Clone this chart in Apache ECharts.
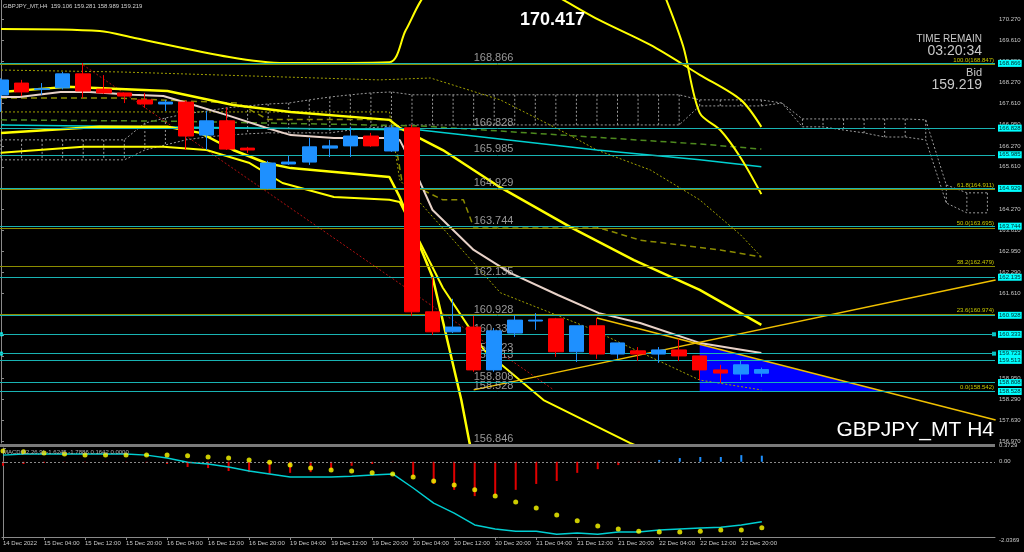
<!DOCTYPE html>
<html><head><meta charset="utf-8">
<script src="https://cdn.jsdelivr.net/npm/echarts@6/dist/echarts.min.js"></script>
<style>html,body{margin:0;padding:0;background:#000;overflow:hidden}#c{width:1024px;height:552px}</style>
</head><body><div id="c"></div>
<script>
// ---------- DATA ----------
const times = ['14 Dec 20:00','15 Dec 00:00','15 Dec 04:00','15 Dec 08:00','15 Dec 12:00','15 Dec 16:00','15 Dec 20:00',
 '16 Dec 00:00','16 Dec 04:00','16 Dec 08:00','16 Dec 12:00','16 Dec 16:00','16 Dec 20:00',
 '19 Dec 00:00','19 Dec 04:00','19 Dec 08:00','19 Dec 12:00','19 Dec 16:00','19 Dec 20:00',
 '20 Dec 00:00','20 Dec 04:00','20 Dec 08:00','20 Dec 12:00','20 Dec 16:00','20 Dec 20:00',
 '21 Dec 00:00','21 Dec 04:00','21 Dec 08:00','21 Dec 12:00','21 Dec 16:00','21 Dec 20:00',
 '22 Dec 00:00','22 Dec 04:00','22 Dec 08:00','22 Dec 12:00','22 Dec 16:00','22 Dec 20:00','23 Dec 00:00'];
const xLabelIdx = [0,2,4,6,8,10,12,14,16,18,20,22,24,26,28,30,32,34,36];
const xLabels = ['14 Dec 2022','15 Dec 04:00','15 Dec 12:00','15 Dec 20:00','16 Dec 04:00','16 Dec 12:00','16 Dec 20:00',
 '19 Dec 04:00','19 Dec 12:00','19 Dec 20:00','20 Dec 04:00','20 Dec 12:00','20 Dec 20:00','21 Dec 04:00',
 '21 Dec 12:00','21 Dec 20:00','22 Dec 04:00','22 Dec 12:00','22 Dec 20:00'];

const open  = [167.875,168.25,168.05,168.10,168.54,168.06,167.94,167.72,167.59,167.65,166.61,167.06,166.20,164.94,165.70,165.76,166.20,166.27,166.58,166.11,166.84,161.04,160.41,160.56,159.21,160.37,160.75,160.82,159.78,160.60,159.71,159.81,159.71,159.84,159.65,159.21,159.08,159.106];
const close = [168.348,167.97,168.07,168.54,168.00,167.94,167.84,167.59,167.65,166.58,167.06,166.17,166.14,165.73,165.76,166.24,166.27,166.58,166.27,166.84,161.04,160.41,160.56,159.21,160.44,160.78,160.78,159.78,160.60,159.71,160.06,159.71,159.84,159.65,159.21,159.11,159.37,159.219];
const low   = [167.34,167.84,167.88,168.05,167.78,167.91,167.62,167.47,167.37,166.14,166.14,166.14,166.05,164.90,165.67,165.67,165.92,165.92,166.24,166.08,160.91,160.31,160.37,159.15,159.15,160.25,160.47,159.62,159.46,159.56,159.56,159.49,159.43,159.49,158.89,158.80,158.89,158.989];
const high  = [168.40,168.35,168.25,168.60,168.88,168.50,167.94,167.94,167.72,167.70,167.37,167.47,166.24,165.80,165.95,166.52,166.46,166.87,166.68,166.93,166.93,162.14,161.45,160.91,160.53,160.94,161.00,160.85,160.60,160.85,160.06,159.93,159.93,160.19,159.65,159.37,159.49,159.281];

// MACD panel
const macdMain   = [0.18,0.21,0.21,0.21,0.21,0.21,0.21,0.18,0.10,-0.01,-0.06,-0.14,-0.25,-0.33,-0.41,-0.41,-0.41,-0.39,-0.36,-0.33,-0.71,-1.12,-1.39,-1.71,-1.82,-1.88,-1.88,-1.96,-1.93,-1.96,-1.90,-1.90,-1.85,-1.82,-1.79,-1.77,-1.71,-1.6245];
const macdSignal = [0.29,0.27,0.24,0.21,0.18,0.18,0.18,0.18,0.18,0.16,0.13,0.10,0.05,-0.01,-0.09,-0.17,-0.22,-0.25,-0.30,-0.33,-0.41,-0.52,-0.63,-0.76,-0.93,-1.09,-1.25,-1.44,-1.60,-1.74,-1.82,-1.88,-1.90,-1.90,-1.88,-1.85,-1.85,-1.7886];
const macdHist   = [-0.11,-0.06,-0.03,-0.01,-0.01,-0.005,-0.01,-0.03,-0.06,-0.14,-0.17,-0.25,-0.28,-0.33,-0.30,-0.28,-0.22,-0.11,-0.06,-0.01,-0.41,-0.60,-0.76,-0.93,-0.90,-0.76,-0.60,-0.52,-0.30,-0.20,-0.09,-0.02,0.05,0.10,0.13,0.13,0.18,0.1642];

// price axis ticks
const yTicks = [170.27,169.61,168.95,168.27,167.61,166.95,166.27,165.61,164.95,164.27,163.61,162.95,162.29,161.61,160.95,160.29,159.63,158.95,158.29,157.63,156.97];
const macdTicks = [0.3729,0,-2.0369];

// horizontal levels (cyan)
const levels = [168.866,166.828,165.985,164.929,163.744,162.135,160.928,160.333,159.723,159.513,158.808,158.528,156.846];
const markedLevels = [160.333,159.723];
// fibonacci
const fibPct = ['100.0','61.8','50.0','38.2','23.6','0.0'];
const fibVal = [168.847,164.911,163.695,162.479,160.974,158.542];
const bid = 159.219;

// overlay lines as [barIndex, price]
const envTop = [[0,169.955],[4.8,169.89],[6.5,169.67],[11.1,169.07],[13.8,168.88],[18.9,168.91],[19.7,169.92],[20.9,171.2],[24,172.0],[27,171.0],[29.1,170.24],[31.6,169.45],[34,168.51],[36,167.72],[37,166.87]];
const envTop2 = [[32.3,171.0],[33.2,169.4],[34,167.31],[35,166.77],[36,165.89],[37,164.75]];
const bbUpper = [[0,167.97],[3.2,168.13],[8.1,168.00],[11.3,167.56],[14.1,167.34],[18.9,167.09],[19.4,166.84],[21.5,166.14],[24.3,164.96],[27.8,163.68],[30.8,162.67],[34,161.73],[37,160.63]];
const bbLower = [[0,166.68],[4.8,166.87],[8.1,166.87],[9.7,166.68],[11.3,166.14],[12.9,165.73],[14.1,165.57],[18.9,165.29],[19.3,164.79],[19.4,164.66],[21,162.14],[22.4,158.26],[22.8,156.91],[23.2,156.0]];
const envLow = [[0,166.05],[4,166.24],[7.9,166.24],[10,166.14],[12.1,165.73],[13.7,165.10],[16.2,164.66],[18.9,164.57],[19.4,164.5],[21.5,161.8],[23.5,159.84],[26.4,158.26],[30.6,156.91],[31,156.8]];
const maLine = [[0,167.81],[0.9,167.81],[2.9,167.97],[4.3,167.97],[6.4,167.88],[7.9,167.84],[9.05,167.62],[11,167.24],[12.9,166.84],[14.1,166.61],[16.2,166.52],[18.9,166.52],[19.4,166.46],[19.9,165.83],[21,164.25],[23,162.99],[24.8,162.26],[27.1,161.57],[29.1,161.00],[31.1,160.69],[34,160.06],[37,159.74]];
const cyanCurve = [[0,166.93],[20.4,166.77],[29,166.14],[34,165.83],[37,165.61]];
const greenDash = [[0,167.09],[8,167.05],[20.4,166.9],[34,166.33],[37,166.17]];
const kijun = [[0,167.78],[5.5,167.78],[11.5,167.62],[13,167.1],[19,167.1],[19.5,165.2],[21.5,164.57],[22.5,164.57],[23,163.71],[29,163.71],[31.1,163.30],[35,162.99],[37,162.77]];
const dotUpper = [[0,168.66],[5.8,168.6],[18.4,168.35],[20.9,168.41],[24.3,167.72],[27.2,166.77],[29,166.14],[31.6,165.51],[34,164.57],[36,163.46],[37,162.77]];
const dotLower = [[0,167.34],[18.9,167.34],[19.4,165.20],[24.3,161.64],[28.5,160.56],[34,158.89],[37,158.58]];
const redDot = [[4,168.82],[26.9,158.58]];
const trendUp = [[23,158.58],[48.4,162.04]];
const trendDown = [[29,160.847],[48.4,157.63]];
const triangle = [[34,160.0],[43.1,158.51],[34,158.51]];
const cloudTop = [166.46,166.46,166.46,166.46,166.46,166.46,166.46,166.99,167.15,167.28,167.37,167.47,167.53,167.59,167.62,167.72,167.81,167.88,167.94,167.97,
 167.88,167.88,167.88,167.88,167.88,167.88,167.88,167.88,167.88,167.88,167.88,167.88,167.88,167.88,
 167.72,167.72,167.72,167.72,167.62,167.12,167.12,167.12,167.12,167.12,167.12,167.09,165.04,164.79,164.79];
const cloudBot = [165.83,165.83,165.83,165.83,165.83,165.83,165.83,166.14,166.30,166.46,166.55,166.61,166.65,166.68,166.68,166.68,166.68,166.77,166.84,166.90,
 166.93,166.93,166.93,166.93,166.93,166.93,166.93,166.93,166.93,166.93,166.93,166.93,166.93,166.93,
 167.53,167.53,167.53,167.53,167.62,166.87,166.87,166.77,166.68,166.55,166.55,166.46,164.47,164.16,164.16];

// ---------- CHART ----------
const BAR_PX = 20.55;
const X_MIN = -1 / BAR_PX, X_MAX = X_MIN + 995 / BAR_PX;
const Y_MAX = 170.868, Y_MIN = 156.906;
const FONT = 'Liberation Sans';
const chart = echarts.init(document.getElementById('c'), null, {renderer: 'canvas'});

function lineS(data, color, width, type, extra) {
  return Object.assign({type: 'line', xAxisIndex: 0, yAxisIndex: 0, data: data, showSymbol: false, symbol: 'none',
    silent: true, lineStyle: {color: color, width: width, type: type || 'solid'}, z: 3}, extra || {});
}

const levelLines = levels.filter(v => v >= Y_MIN).map(v => ({
  yAxis: v, lineStyle: {color: '#19B3B3', width: 1, type: 'solid'},
  label: {show: true, position: 'end', distance: 3, formatter: v.toFixed(3), backgroundColor: '#00FFFF', color: '#002b2b',
    fontSize: 6, fontFamily: FONT, padding: [1, 1, 0, 1]}
}));
const fibLines = fibVal.map((v, i) => ({
  yAxis: v, lineStyle: {color: '#8C8C00', width: 1, type: 'solid'},
  label: {show: true, position: 'insideEndTop', distance: 1, formatter: fibPct[i] + '(' + v.toFixed(3) + ')',
    color: '#C8C800', fontSize: 6, fontFamily: FONT}
}));
const bidLine = {yAxis: bid, lineStyle: {opacity: 0},
  label: {show: true, position: 'end', distance: 3, formatter: bid.toFixed(3), backgroundColor: '#FFFFFF', color: '#000',
    fontSize: 6, fontFamily: FONT, padding: [1, 1, 0, 1]}};

const option = {
  backgroundColor: '#000000',
  animation: false,
  grid: [
    {left: 0, right: 29, top: 0, height: 443},
    {left: 0, right: 29, top: 448, height: 89}
  ],
  xAxis: [
    {type: 'value', gridIndex: 0, min: X_MIN, max: X_MAX, axisLine: {show: false}, axisTick: {show: false},
      axisLabel: {show: false}, splitLine: {show: false}},
    {type: 'value', gridIndex: 1, min: X_MIN, max: X_MAX,
      axisLine: {show: true, onZero: false, lineStyle: {color: '#8a8a8a', width: 1}},
      axisTick: {show: true, customValues: xLabelIdx, length: 3, lineStyle: {color: '#8a8a8a'}},
      axisLabel: {show: true, customValues: xLabelIdx, color: '#c8c8c8', fontSize: 6, fontFamily: FONT, align: 'left', margin: 3,
        formatter: v => xLabels[xLabelIdx.indexOf(Math.round(v))] || ''},
      splitLine: {show: false}}
  ],
  yAxis: [
    {type: 'value', gridIndex: 0, position: 'right', min: Y_MIN, max: Y_MAX,
      axisLine: {show: true, lineStyle: {color: '#8a8a8a'}},
      axisTick: {show: true, customValues: yTicks, length: 3, lineStyle: {color: '#8a8a8a'}},
      axisLabel: {show: true, customValues: yTicks, formatter: v => v.toFixed(3), color: '#c8c8c8', fontSize: 6, fontFamily: FONT, margin: 4},
      splitLine: {show: false}},
    {type: 'value', gridIndex: 1, position: 'right', min: -2.0369, max: 0.3729,
      axisLine: {show: true, lineStyle: {color: '#8a8a8a'}},
      axisTick: {show: true, customValues: macdTicks, length: 3, lineStyle: {color: '#8a8a8a'}},
      axisLabel: {show: true, customValues: macdTicks, color: '#c8c8c8', fontSize: 6, fontFamily: FONT, margin: 4,
        verticalAlignMaxLabel: 'top', verticalAlignMinLabel: 'bottom',
        formatter: v => (v === 0 ? '0.00' : v.toFixed(4))},
      splitLine: {show: false}}
  ],
  graphic: [
    {type: 'rect', shape: {x: 0, y: 444, width: 995, height: 3}, style: {fill: '#7a7a7a'}, z: 10},
    {type: 'text', left: 3, top: 3, style: {text: 'GBPJPY_MT,H4  159.106 159.281 158.989 159.219', fill: '#d0d0d0', fontSize: 6, fontFamily: FONT}, z: 10},
    {type: 'text', left: 3, top: 449, style: {text: 'MACD(12,26,9) -1.6245 -1.7886 0.1642 0.0000', fill: '#b0b0b0', fontSize: 6, fontFamily: FONT}, z: 10},
    {type: 'text', left: 520, top: 11, style: {text: '170.417', fill: '#ffffff', fontSize: 18, fontWeight: 'bold', fontFamily: FONT}, z: 10},
    {type: 'text', right: 42, top: 34, style: {text: 'TIME REMAIN', fill: '#c8c8c8', fontSize: 10, fontFamily: FONT}, z: 10},
    {type: 'text', right: 42, top: 44, style: {text: '03:20:34', fill: '#c8c8c8', fontSize: 14, fontFamily: FONT}, z: 10},
    {type: 'text', right: 42, top: 67, style: {text: 'Bid', fill: '#c8c8c8', fontSize: 11, fontFamily: FONT}, z: 10},
    {type: 'text', right: 42, top: 78, style: {text: '159.219', fill: '#c8c8c8', fontSize: 14, fontFamily: FONT}, z: 10},
    {type: 'text', right: 30, top: 420, style: {text: 'GBPJPY_MT H4', fill: '#ffffff', fontSize: 21, fontFamily: FONT}, z: 10}
  ],
  series: [
    // Ichimoku-like dotted cloud
    {type: 'custom', xAxisIndex: 0, yAxisIndex: 0, silent: true, z: 1,
      data: cloudTop.map((a, i) => [i, a, cloudBot[i]]),
      renderItem: function (params, api) {
        const p1 = api.coord([api.value(0), api.value(1)]);
        const p2 = api.coord([api.value(0), api.value(2)]);
        return {type: 'line', shape: {x1: p1[0], y1: p1[1], x2: p2[0], y2: p2[1]},
          style: {stroke: '#9a9a9a', lineWidth: 1, lineDash: [2, 2]}};
      }},
    lineS(cloudTop.map((v, i) => [i, v]), '#9a9a9a', 1, [2, 2], {z: 1}),
    lineS(cloudBot.map((v, i) => [i, v]), '#9a9a9a', 1, [2, 2], {z: 1}),
    // blue triangle
    {type: 'custom', xAxisIndex: 0, yAxisIndex: 0, silent: true, z: 1,
      data: [0],
      renderItem: function (params, api) {
        return {type: 'polygon', shape: {points: triangle.map(p => api.coord(p))}, style: {fill: '#0000FF'}};
      }},
    // horizontal levels + fib + bid
    {type: 'line', xAxisIndex: 0, yAxisIndex: 0, data: [], silent: true, z: 2,
      markLine: {silent: true, symbol: 'none', animation: false, data: fibLines.concat(levelLines).concat([bidLine])}},
    // level text labels
    {type: 'scatter', xAxisIndex: 0, yAxisIndex: 0, silent: true, clip: false, symbolSize: 0, z: 4,
      data: levels.map(v => [23, v]),
      label: {show: true, position: [0, 0], align: 'left', verticalAlign: 'bottom', formatter: p => p.value[1].toFixed(3),
        color: '#bdbdbd', fontSize: 11, fontFamily: FONT}},
    {type: 'scatter', xAxisIndex: 0, yAxisIndex: 0, silent: true, clip: false, symbol: 'rect', symbolSize: 4, z: 4,
      itemStyle: {color: '#00FFFF'},
      data: markedLevels.map(v => [0, v]).concat(markedLevels.map(v => [X_MAX - 0.05, v]))},
    // overlays
    lineS(kijun, '#8C8C00', 1.5, [6, 4]),
    lineS(greenDash, '#4E8A1E', 1.5, [6, 4]),
    lineS(dotUpper, '#A0A000', 1, [2, 2]),
    lineS(dotLower, '#A0A000', 1, [2, 2]),
    lineS(redDot, '#B01010', 1, [2, 2]),
    lineS(cyanCurve, '#00D0D0', 1.5),
    lineS(maLine, '#E8D2C8', 2),
    lineS(envTop, '#FFFF00', 2, 'solid', {smooth: 0.3}),
    lineS(envTop2, '#FFFF00', 2, 'solid', {smooth: 0.3}),
    lineS(bbUpper, '#FFFF00', 2.5),
    lineS(bbLower, '#FFFF00', 2.5),
    lineS(envLow, '#FFFF00', 2),
    lineS(trendUp, '#F0C000', 1.5),
    lineS(trendDown, '#F0C000', 1.5),
    // candles
    {type: 'candlestick', xAxisIndex: 0, yAxisIndex: 0, silent: true, z: 5, barWidth: 15,
      data: times.map((t, i) => [i, open[i], close[i], low[i], high[i]]),
      encode: {x: 0, y: [1, 2, 3, 4]},
      itemStyle: {color: '#1E90FF', color0: '#FF0000', borderColor: '#1E90FF', borderColor0: '#FF0000', borderWidth: 1}},
    // MACD histogram
    {type: 'custom', xAxisIndex: 1, yAxisIndex: 1, silent: true, z: 3,
      data: macdHist.map((v, i) => [i, v]),
      renderItem: function (params, api) {
        const p0 = api.coord([api.value(0), 0]);
        const p1 = api.coord([api.value(0), api.value(1)]);
        return {type: 'rect', shape: {x: p0[0] - 1, y: Math.min(p0[1], p1[1]), width: 2, height: Math.abs(p1[1] - p0[1])},
          style: {fill: api.value(1) >= 0 ? '#1E90FF' : '#E00000'}};
      },
      markLine: {silent: true, symbol: 'none', animation: false, label: {show: false},
        data: [{yAxis: 0}], lineStyle: {color: '#8a8a8a', type: [2, 2], width: 1}}},
    {type: 'line', xAxisIndex: 1, yAxisIndex: 1, silent: true, z: 4, showSymbol: false, symbol: 'none',
      data: macdMain.map((v, i) => [i, v]), lineStyle: {color: '#00CED1', width: 1.5}},
    {type: 'scatter', xAxisIndex: 1, yAxisIndex: 1, silent: true, z: 5, symbolSize: 5,
      data: macdSignal.map((v, i) => [i, v]), itemStyle: {color: '#FFFF00'}}
  ]
};
chart.setOption(option);
</script>
</body></html>
